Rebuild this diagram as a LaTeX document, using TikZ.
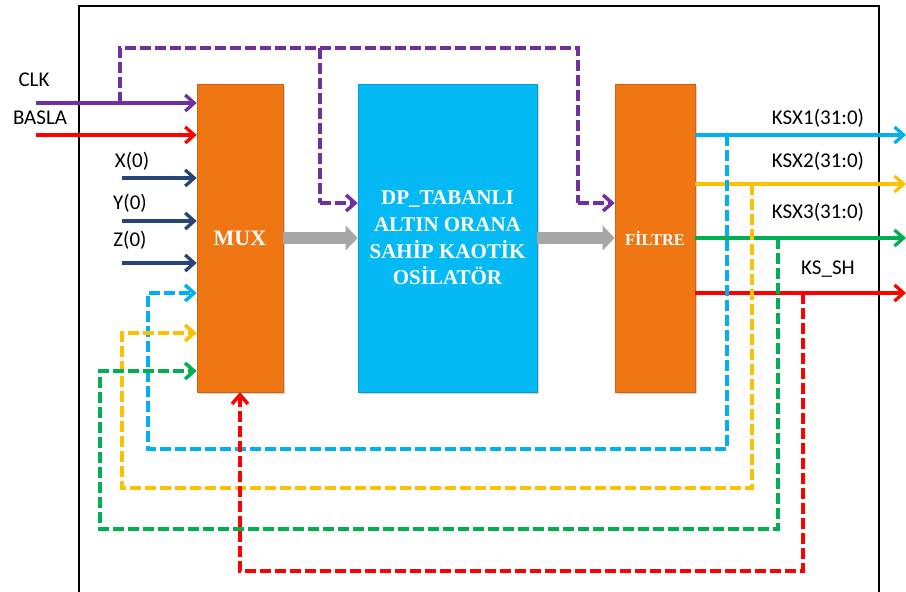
\documentclass[tikz,border=0pt]{standalone}
\usepackage{fontspec}
\usetikzlibrary{arrows.meta,shadows}
\newfontfamily\lblfont{Carlito}
\newfontfamily\blkfont{Liberation Serif}
\definecolor{cpurple}{HTML}{7030A0}
\definecolor{cred}{HTML}{FF0000}
\definecolor{cdblue}{HTML}{264478}
\definecolor{ccyan}{HTML}{00B0F0}
\definecolor{cyellow}{HTML}{FFC000}
\definecolor{cgreen}{HTML}{00B050}
\definecolor{corange}{HTML}{F07614}
\definecolor{cblue}{HTML}{05B9F5}
\definecolor{cgrey}{HTML}{A6A6A6}
\begin{document}
\begin{tikzpicture}[x=1pt,y=-1pt,
  lbl/.style={font=\lblfont\fontsize{21}{24}\selectfont, inner sep=0pt},
  blk/.style={draw=#1!85!black, fill=#1, line width=0.6pt,
    drop shadow={shadow xshift=1.5pt, shadow yshift=-2pt, opacity=0.35},
    text=white, align=center, inner sep=0pt},
  sarr/.style={line width=3.3pt, -{Straight Barb[length=9pt,width=16pt]}},
  darr/.style={sarr, line width=3.5pt, dash pattern=on 11pt off 4pt},
  dline/.style={line width=3.5pt, dash pattern=on 11pt off 4pt},
  garr/.style={draw=cgrey, line width=12pt, -{Triangle[length=12pt,width=24pt]}}]
\useasboundingbox (0,0) rectangle (906,592);
\fill[white] (0,0) rectangle (906,592);
% frame
\draw[line width=1.5pt] (79,592) -- (79,6) -- (879,6) -- (879,592);
% blocks
\node[blk=corange, minimum width=86pt, minimum height=308pt,
  font=\blkfont\bfseries\fontsize{22}{26}\selectfont] (mux) at (240,238) {MUX};
\node[blk=cblue, minimum width=179pt, minimum height=308pt,
  font=\blkfont\bfseries\fontsize{21}{26.7}\selectfont] (dp) at (447.5,238)
  {DP\_TABANLI\\ALTIN ORANA\\SAHİP KAOTİK\\OSİLATÖR};
\node[blk=corange, minimum width=80pt, minimum height=308pt,
  font=\blkfont\bfseries\fontsize{16.5}{20}\selectfont] (fil) at (655,238) {FİLTRE};
% grey arrows
\draw[garr] (mux.east) -- (dp.west);
\draw[garr] (dp.east) -- (fil.west);
% labels
\node[lbl] (clkL) at (34,80) {CLK};
\node[lbl] (baslaL) at (40,118) {BASLA};
\node[lbl] (x0L) at (132,161) {X(0)};
\node[lbl] (y0L) at (130,203) {Y(0)};
\node[lbl] (z0L) at (130,240) {Z(0)};
\node[lbl] (k1L) at (818,118) {KSX1(31:0)};
\node[lbl] (k2L) at (818,161) {KSX2(31:0)};
\node[lbl] (k3L) at (818,212) {KSX3(31:0)};
\node[lbl] (kshL) at (828,269) {KS\_SH};
% coordinates
\coordinate (clkS) at (36,103);
\coordinate (baslaS) at (36,135);
\coordinate (xS) at (122,178);
\coordinate (yS) at (122,221);
\coordinate (zS) at (122,263);
\coordinate (clkB) at (120,103);
\coordinate (pTop1) at (120,48);
\coordinate (pTop2) at (578,48);
\coordinate (pMid) at (320,48);
\coordinate (pDp) at (320,203);
\coordinate (pFil) at (578,203);
\coordinate (o1) at (906,135);
\coordinate (o2) at (906,184);
\coordinate (o3) at (906,238);
\coordinate (o4) at (906,293);
\coordinate (c1) at (727,135);
\coordinate (c2) at (727,449);
\coordinate (c3) at (148,449);
\coordinate (c4) at (148,293);
\coordinate (y1) at (752,184);
\coordinate (y2) at (752,488);
\coordinate (y3) at (122,488);
\coordinate (y4) at (122,333);
\coordinate (g1) at (778,238);
\coordinate (g2) at (778,529);
\coordinate (g3) at (100,529);
\coordinate (g4) at (100,371);
\coordinate (r1) at (803,293);
\coordinate (r2) at (803,571);
\coordinate (r3) at (240,571);
% inputs
\draw[sarr, cpurple] (clkS) -- (clkS -| mux.west);
\draw[sarr, cred] (baslaS) -- (baslaS -| mux.west);
\draw[sarr, cdblue] (xS) -- (xS -| mux.west);
\draw[sarr, cdblue] (yS) -- (yS -| mux.west);
\draw[sarr, cdblue] (zS) -- (zS -| mux.west);
% clock distribution
\draw[dline, cpurple] (clkB) -- (pTop1) -- (pTop2) -- (pFil);
\draw[darr, cpurple] (pFil) -- (pFil -| fil.west);
\draw[dline, cpurple] (pMid) -- (pDp);
\draw[darr, cpurple] (pDp) -- (pDp -| dp.west);
% outputs
\draw[sarr, ccyan] (o1 -| fil.east) -- (o1);
\draw[sarr, cyellow] (o2 -| fil.east) -- (o2);
\draw[sarr, cgreen] (o3 -| fil.east) -- (o3);
\draw[sarr, cred] (o4 -| fil.east) -- (o4);
% feedback
\draw[darr, ccyan] (c1) -- (c2) -- (c3) -- (c4) -- (c4 -| mux.west);
\draw[darr, cyellow] (y1) -- (y2) -- (y3) -- (y4) -- (y4 -| mux.west);
\draw[darr, cgreen] (g1) -- (g2) -- (g3) -- (g4) -- (g4 -| mux.west);
\draw[darr, cred] (r1) -- (r2) -- (r3) -- (mux.south);
\end{tikzpicture}
\end{document}
